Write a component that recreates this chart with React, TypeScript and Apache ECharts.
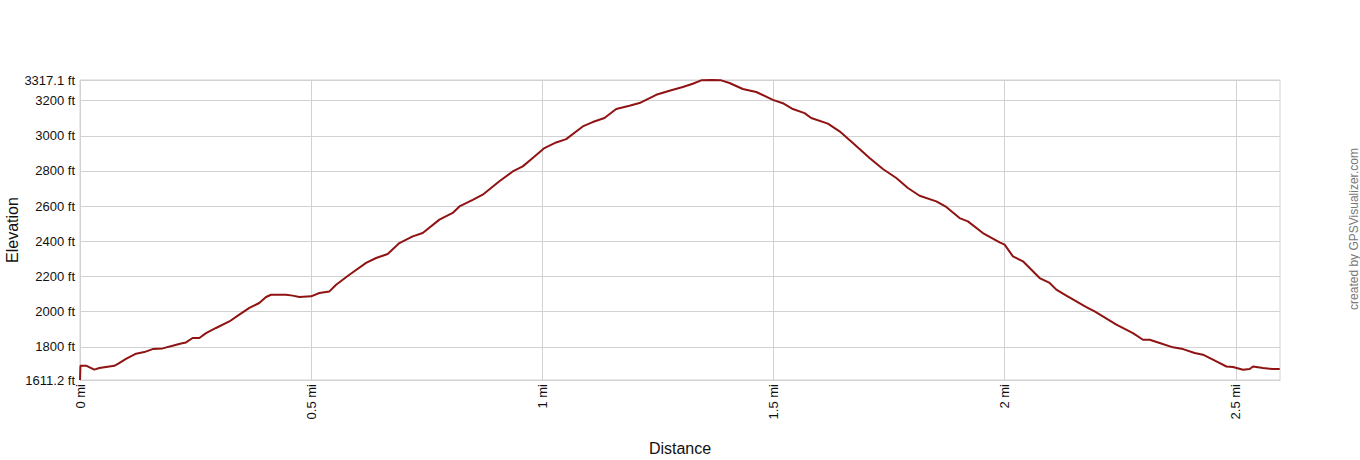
import React, { useEffect, useRef } from "react";
import * as echarts from "echarts";

// distance in miles
const distanceMi = [
  0, 0.001, 0.0143, 0.0309, 0.0418, 0.0634, 0.0742, 0.0829, 0.0995, 0.1212, 0.1391, 0.1571, 0.1787,
  0.2003, 0.2185, 0.2293, 0.2436, 0.2581, 0.2726, 0.2942, 0.323, 0.3446, 0.3663, 0.3877, 0.4024,
  0.4132, 0.4457, 0.46, 0.4745, 0.4998, 0.5177, 0.5394, 0.5539, 0.5826, 0.6188, 0.6404, 0.6655,
  0.6908, 0.7196, 0.7412, 0.7774, 0.8061, 0.8206, 0.8494, 0.871, 0.9071, 0.9359, 0.9576, 0.9792,
  1.0045, 1.0298, 1.0515, 1.0874, 1.109, 1.1343, 1.1597, 1.1884, 1.2101, 1.2462, 1.275, 1.3038,
  1.3254, 1.3436, 1.3659, 1.3869, 1.4048, 1.4336, 1.4626, 1.4985, 1.5201, 1.5418, 1.5671, 1.5815,
  1.6175, 1.6428, 1.6716, 1.7077, 1.7365, 1.7655, 1.7906, 1.8159, 1.852, 1.8736, 1.9024, 1.9204,
  1.9528, 1.989, 1.9998, 2.0178, 2.0394, 2.0755, 2.0972, 2.1116, 2.1333, 2.1765, 2.1945, 2.2415,
  2.2774, 2.299, 2.3135, 2.3352, 2.3639, 2.3856, 2.4109, 2.4288, 2.4578, 2.4795, 2.4937, 2.5154,
  2.5299, 2.537, 2.5587, 2.579, 2.5948,
];

// elevation in feet
const elevationFt = [
  1611.2, 1692, 1692, 1670, 1679, 1688, 1692, 1704, 1731, 1761, 1770, 1787, 1791,
  1806, 1819, 1825, 1850, 1850, 1878, 1907, 1944, 1983, 2021, 2049, 2083,
  2096, 2096, 2091, 2083, 2087, 2106, 2115, 2153, 2210, 2277, 2305, 2328,
  2390, 2428, 2447, 2523, 2561, 2598, 2636, 2665, 2741, 2797, 2826, 2874,
  2930, 2962, 2981, 3053, 3078, 3101, 3152, 3171, 3186, 3233, 3256, 3277,
  3296, 3315, 3317.1, 3315, 3300, 3266, 3249, 3204, 3185, 3152, 3129, 3101,
  3069, 3025, 2959, 2874, 2811, 2760, 2703, 2659, 2627, 2595, 2532, 2513,
  2447, 2394, 2381, 2314, 2286, 2191, 2163, 2125, 2091, 2026, 2001, 1926,
  1878, 1840, 1840, 1822, 1797, 1787, 1765, 1755, 1717, 1688, 1685, 1670,
  1674, 1688, 1679, 1674, 1674,
];

const yTicks = [1611.2, 1800, 2000, 2200, 2400, 2600, 2800, 3000, 3200, 3317.1];
const xTicks = [0, 0.5, 1, 1.5, 2, 2.5];
const yMin = 1611.2;
const yMax = 3317.1;
const xMax = 2.5954;

export default function App() {
  const ref = useRef<HTMLDivElement>(null);
  useEffect(() => {
    if (!ref.current) return;
    const chart = echarts.init(ref.current, undefined, { renderer: "svg" });
    const gridColor = "#d2d2d2";
    const font = "Liberation Sans, Arial, sans-serif";
    chart.setOption({
      animation: false,
      backgroundColor: "#ffffff",
      textStyle: { fontFamily: font },
      grid: {
        left: 80,
        right: 80,
        top: 80,
        bottom: 80,
        show: true,
        borderColor: gridColor,
        borderWidth: 1,
        containLabel: false,
        outerBoundsMode: "none",
      },
      xAxis: {
        type: "value",
        min: 0,
        max: xMax,
        name: "Distance",
        nameLocation: "middle",
        nameGap: 60,
        nameMoveOverlap: false,
        nameTextStyle: { fontSize: 16, color: "#111", fontFamily: font },
        axisLine: { show: true, lineStyle: { color: gridColor } },
        axisTick: { show: false, customValues: xTicks },
        axisLabel: {
          customValues: xTicks,
          rotate: 90,
          margin: 4,
          fontSize: 13,
          color: "#111",
          formatter: (v: number) => `${v} mi`,
        },
        splitLine: { show: true, lineStyle: { color: gridColor, width: 1 } },
      },
      yAxis: {
        type: "value",
        min: yMin,
        max: yMax,
        name: "Elevation",
        nameLocation: "middle",
        nameGap: 60,
        nameMoveOverlap: false,
        nameTextStyle: { fontSize: 16, color: "#111", fontFamily: font },
        axisLine: { show: true, lineStyle: { color: gridColor } },
        axisTick: { show: false, customValues: yTicks },
        axisLabel: {
          customValues: yTicks,
          margin: 5,
          fontSize: 13,
          color: "#111",
          formatter: (v: number) => `${v} ft`,
        },
        splitLine: { show: true, lineStyle: { color: gridColor, width: 1 } },
      },
      series: [
        {
          type: "line",
          data: distanceMi.map((d, i) => [d, elevationFt[i]]),
          showSymbol: false,
          symbol: "none",
          lineStyle: { color: "#8f1313", width: 2 },
          clip: true,
        },
      ],
      graphic: [
        {
          type: "text",
          x: 1354,
          y: 229,
          rotation: Math.PI / 2,
          style: {
            text: "created by GPSVisualizer.com",
            fill: "#777777",
            fontSize: 12,
            fontFamily: font,
            align: "center",
            verticalAlign: "middle",
          },
        },
      ],
    });
    return () => chart.dispose();
  }, []);
  return (
    <div
      ref={ref}
      style={{ position: "absolute", left: 0, top: 0, width: 1360, height: 460 }}
    />
  );
}
